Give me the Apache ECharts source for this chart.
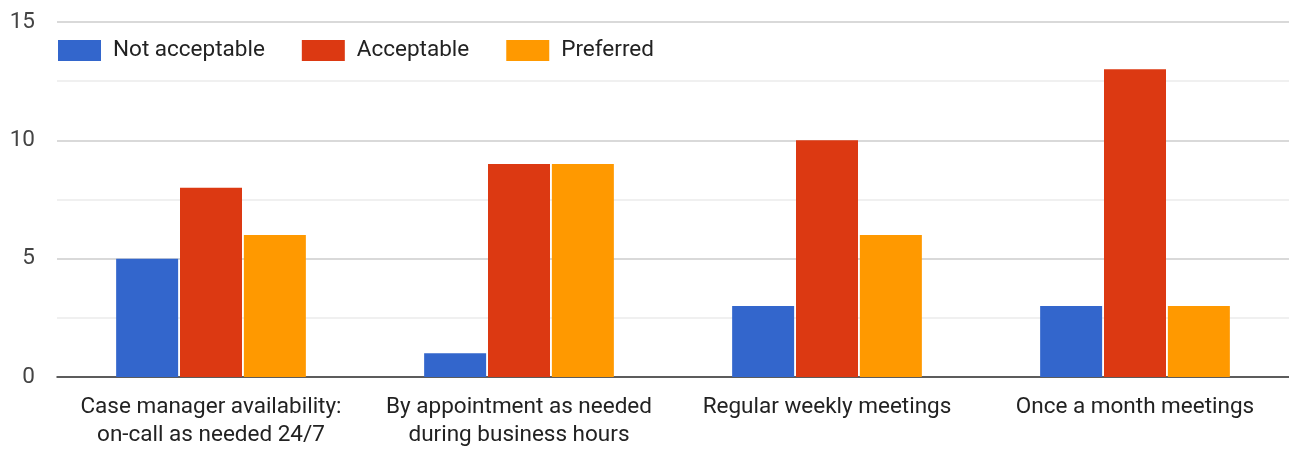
<!DOCTYPE html>
<html><head><meta charset="utf-8">
<script src="https://cdn.jsdelivr.net/npm/echarts@6/dist/echarts.min.js"></script>
<style>html,body{margin:0;padding:0;background:#fff}#c{width:1289px;height:449px}</style>
</head><body><div id="c"></div>
<script>
const categories = ["Case manager availability:\non-call as needed 24/7", "By appointment as needed\nduring business hours", "Regular weekly meetings", "Once a month meetings"];
const notAcceptable = [5, 1, 3, 3];
const acceptable = [8, 9, 10, 13];
const preferred = [6, 9, 6, 3];
const yTicks = [0, 5, 10, 15];

const chart = echarts.init(document.getElementById('c'));
const font = 'Roboto, Arial, sans-serif';
chart.setOption({
  animation: false,
  textStyle: {fontFamily: font},
  legend: {
    left: 53, top: 34, itemWidth: 43, itemHeight: 21, itemGap: 37, padding: [5, 5, 5, 5],
    icon: 'rect',
    textStyle: {fontSize: 22.5, color: '#222', fontFamily: font, padding: [0, 0, 0, 7]},
    data: ['Not acceptable', 'Acceptable', 'Preferred']
  },
  grid: {left: 57, right: 0, top: 22, bottom: 69, containLabel: false},
  xAxis: {
    type: 'category', data: categories,
    axisTick: {show: false},
    axisLine: {lineStyle: {color: '#333', width: 1.5}},
    axisLabel: {fontSize: 22.5, color: '#222', lineHeight: 28, margin: 16, interval: 0, fontFamily: font}
  },
  yAxis: {
    type: 'value', min: yTicks[0], max: yTicks[yTicks.length - 1], interval: 5,
    axisLine: {show: false}, axisTick: {show: false},
    axisLabel: {fontSize: 22.5, color: '#444', margin: 22, fontFamily: font},
    splitLine: {lineStyle: {color: '#ccc', width: 1.5}},
    minorTick: {show: false, splitNumber: 2},
    minorSplitLine: {show: true, lineStyle: {color: '#ebebeb', width: 1.5}}
  },
  series: [
    {name: 'Not acceptable', type: 'bar', data: notAcceptable, barWidth: 62, barGap: '3%', itemStyle: {color: '#3366cc'}},
    {name: 'Acceptable', type: 'bar', data: acceptable, barWidth: 62, barGap: '3%', itemStyle: {color: '#dc3912'}},
    {name: 'Preferred', type: 'bar', data: preferred, barWidth: 62, barGap: '3%', itemStyle: {color: '#ff9900'}}
  ]
});
</script></body></html>
